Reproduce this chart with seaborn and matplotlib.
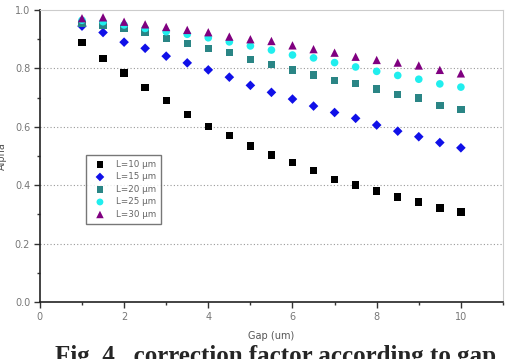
import pandas as pd
import seaborn as sns
import matplotlib.pyplot as plt
from matplotlib.ticker import MultipleLocator

# Valores
gap = [1, 1.5, 2, 2.5, 3, 3.5, 4, 4.5, 5, 5.5, 6, 6.5, 7, 7.5, 8, 8.5, 9, 9.5, 10]

alpha_10 = [0.888, 0.834, 0.784, 0.735, 0.690, 0.643, 0.600, 0.571, 0.534, 0.503,
            0.477, 0.451, 0.420, 0.400, 0.380, 0.360, 0.342, 0.322, 0.308]
alpha_15 = [0.945, 0.923, 0.890, 0.869, 0.842, 0.819, 0.795, 0.770, 0.742, 0.718,
            0.695, 0.671, 0.649, 0.629, 0.606, 0.585, 0.566, 0.546, 0.528]
alpha_20 = [0.955, 0.949, 0.937, 0.922, 0.903, 0.886, 0.869, 0.854, 0.831, 0.814,
            0.795, 0.777, 0.759, 0.749, 0.729, 0.710, 0.699, 0.672, 0.660]
alpha_25 = [0.965, 0.960, 0.949, 0.937, 0.926, 0.917, 0.905, 0.891, 0.877, 0.863,
            0.846, 0.836, 0.820, 0.805, 0.790, 0.776, 0.763, 0.747, 0.736]
alpha_30 = [0.972, 0.975, 0.960, 0.951, 0.942, 0.932, 0.924, 0.909, 0.900, 0.894,
            0.879, 0.866, 0.854, 0.840, 0.829, 0.820, 0.810, 0.795, 0.783]

labels = ["L=10 \u03bcm", "L=15 \u03bcm", "L=20 \u03bcm", "L=25 \u03bcm", "L=30 \u03bcm"]
series = [alpha_10, alpha_15, alpha_20, alpha_25, alpha_30]

rows = []
for lab, vals in zip(labels, series):
    for g, a in zip(gap, vals):
        rows.append({"Gap": g, "Alpha": a, "L": lab})
df = pd.DataFrame(rows)

colores = dict(zip(labels, ["#000000", "#1010e8", "#2a8585", "#20eeee", "#800080"]))
marcadores = dict(zip(labels, ["s", "D", "s", "o", "^"]))
tamanos = dict(zip(labels, [28, 24, 28, 30, 36]))

sns.set_style("white")
fig = plt.figure(figsize=(5.05, 3.59), dpi=100)
ax = fig.add_axes([0.079, 0.159, 0.917, 0.813])

for lab in labels:
    sub = df[df["L"] == lab]
    sns.scatterplot(data=sub, x="Gap", y="Alpha", color=colores[lab], marker=marcadores[lab],
                    s=tamanos[lab], edgecolor="none", label=lab, ax=ax, zorder=3)

ax.set_xlim(0, 11)
ax.set_ylim(0, 1.0)
ax.xaxis.set_major_locator(MultipleLocator(2))
ax.xaxis.set_minor_locator(MultipleLocator(1))
ax.yaxis.set_major_locator(MultipleLocator(0.2))
ax.yaxis.set_minor_locator(MultipleLocator(0.1))
ax.set_yticks([0.0, 0.2, 0.4, 0.6, 0.8, 1.0])
ax.set_yticklabels(["0.0", "0.2", "0.4", "0.6", "0.8", "1.0"])
ax.tick_params(axis="both", which="major", direction="out", length=4, width=1,
               colors="#333333", labelcolor="#777777", labelsize=7, pad=3)
ax.tick_params(axis="both", which="minor", direction="out", length=2.5, width=1, colors="#333333")
ax.tick_params(bottom=True, left=True, which="both")

for y in [0.2, 0.4, 0.6, 0.8]:
    ax.axhline(y, color="#999999", linestyle=(0, (1, 2)), linewidth=0.8, zorder=1)

ax.spines["left"].set_color("#222222")
ax.spines["bottom"].set_color("#222222")
ax.spines["left"].set_linewidth(1.2)
ax.spines["bottom"].set_linewidth(1.2)
ax.spines["top"].set_color("#cccccc")
ax.spines["right"].set_color("#cccccc")

ax.set_xlabel("Gap (um)", fontsize=7, color="#555555", labelpad=7)
ax.set_ylabel("Alpha", fontsize=7, color="#555555", labelpad=6)

leg = ax.legend(loc="upper left", bbox_to_anchor=(0.09, 0.52), fontsize=6.3, frameon=True,
                fancybox=False, edgecolor="#555555", handletextpad=0.8, borderpad=0.6,
                labelspacing=0.4, markerscale=0.9)
leg.get_frame().set_linewidth(1.0)
for t in leg.get_texts():
    t.set_color("#666666")

# leyenda de la figura, cortada abajo como en el original
fig.text(0.545, -0.012, "Fig. 4   correction factor according to gap", fontsize=18,
         fontweight="bold", family="Liberation Serif", ha="center", va="baseline")

plt.savefig("out.png", dpi=100)
